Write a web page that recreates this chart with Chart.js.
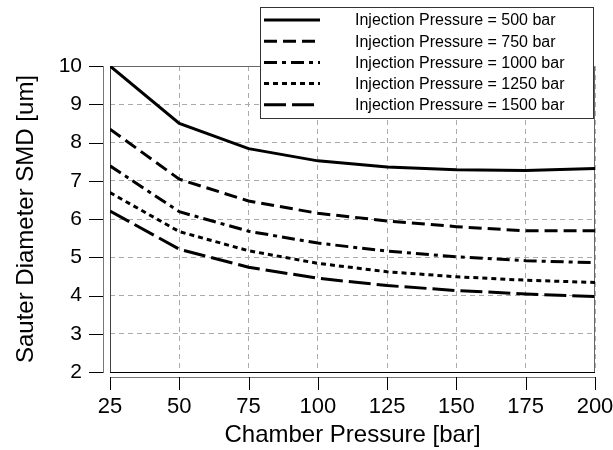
<!DOCTYPE html>
<html><head><meta charset="utf-8">
<script src="https://cdn.jsdelivr.net/npm/chart.js@4/dist/chart.umd.min.js"></script>
<style>html,body{margin:0;padding:0;background:#fff;}#wrap{width:613px;height:450px;}</style>
</head><body><div id="wrap"><canvas id="c" width="613" height="450"></canvas></div>
<script>
// ---- data ----
const chamberPressure = [25, 50, 75, 100, 125, 150, 175, 200];
const smd500  = [10.0, 8.50, 7.84, 7.52, 7.36, 7.29, 7.27, 7.32];
const smd750  = [8.35, 7.04, 6.47, 6.15, 5.95, 5.80, 5.69, 5.69];
const smd1000 = [7.39, 6.19, 5.68, 5.37, 5.16, 5.01, 4.91, 4.86];
const smd1250 = [6.69, 5.67, 5.17, 4.84, 4.62, 4.49, 4.40, 4.34];
const smd1500 = [6.21, 5.21, 4.74, 4.45, 4.26, 4.13, 4.04, 3.97];
const seriesLabels = [
  'Injection Pressure = 500 bar',
  'Injection Pressure = 750 bar',
  'Injection Pressure = 1000 bar',
  'Injection Pressure = 1250 bar',
  'Injection Pressure = 1500 bar'
];
const xTitle = 'Chamber Pressure [bar]';
const yTitle = 'Sauter Diameter SMD [um]';

const seriesValues = [smd500, smd750, smd1000, smd1250, smd1500];
const dashes = [[], [13, 6], [13, 5, 4, 5], [5, 4], [22, 6]];
const FONT = "'Liberation Sans', Arial, Helvetica, sans-serif";

const datasets = seriesValues.map((vals, i) => ({
  label: seriesLabels[i],
  data: chamberPressure.map((x, j) => ({x: x, y: vals[j]})),
  borderColor: '#000',
  borderWidth: 3,
  borderDash: dashes[i],
  borderCapStyle: 'butt',
  pointRadius: 0,
  tension: 0,
  fill: false
}));

const frameAxes = {
  id: 'frameAxes',
  beforeDatasetsDraw(chart) {
    const {ctx, chartArea: a, scales: {x, y}} = chart;
    ctx.save();
    ctx.setLineDash([]);
    ctx.lineWidth = 1;
    ctx.strokeStyle = '#666';
    ctx.beginPath();
    ctx.moveTo(a.left + 0.5, a.top + 0.5); ctx.lineTo(a.right - 0.5, a.top + 0.5);
    ctx.lineTo(a.right - 0.5, a.bottom);
    ctx.stroke();
    ctx.strokeStyle = '#444';
    ctx.beginPath();
    ctx.moveTo(a.left + 0.5, a.top); ctx.lineTo(a.left + 0.5, a.bottom);
    ctx.stroke();
    ctx.strokeStyle = '#000';
    ctx.beginPath();
    ctx.moveTo(a.left, a.bottom + 0.5); ctx.lineTo(a.right, a.bottom + 0.5);
    ctx.stroke();
    const ax = a.left - 7;
    ctx.strokeStyle = '#777';
    ctx.beginPath();
    ctx.moveTo(ax + 0.5, a.top); ctx.lineTo(ax + 0.5, a.bottom + 1);
    ctx.stroke();
    ctx.strokeStyle = '#000';
    y.ticks.forEach(t => {
      const py = Math.round(y.getPixelForValue(t.value)) + 0.5;
      ctx.beginPath(); ctx.moveTo(ax - 14, py); ctx.lineTo(ax, py); ctx.stroke();
    });
    const ay = a.bottom + 5;
    ctx.strokeStyle = '#777';
    ctx.beginPath();
    ctx.moveTo(a.left, ay + 0.5); ctx.lineTo(a.right, ay + 0.5);
    ctx.stroke();
    ctx.strokeStyle = '#000';
    x.ticks.forEach(t => {
      const px = Math.round(x.getPixelForValue(t.value)) + 0.5;
      ctx.beginPath(); ctx.moveTo(px, ay); ctx.lineTo(px, ay + 13); ctx.stroke();
    });
    ctx.restore();
  }
};

const boxLegend = {
  id: 'boxLegend',
  afterDraw(chart) {
    const {ctx} = chart;
    const L = 260, T = 7, R = 594, B = 119;
    ctx.save();
    ctx.fillStyle = '#fff';
    ctx.fillRect(L, T, R - L, B - T);
    ctx.strokeStyle = '#333';
    ctx.lineWidth = 1;
    ctx.setLineDash([]);
    ctx.strokeRect(L + 0.5, T + 0.5, R - L - 1, B - T - 1);
    ctx.font = '16px ' + FONT;
    ctx.textBaseline = 'middle';
    ctx.textAlign = 'left';
    chart.data.datasets.forEach((ds, i) => {
      const yy = 20 + i * 21.2;
      ctx.strokeStyle = '#000';
      ctx.lineWidth = 3;
      ctx.lineCap = 'butt';
      ctx.setLineDash(ds.borderDash);
      ctx.beginPath(); ctx.moveTo(264, yy); ctx.lineTo(320, yy); ctx.stroke();
      ctx.fillStyle = '#000';
      ctx.fillText(ds.label, 355, yy + 1);
    });
    ctx.restore();
  }
};

new Chart(document.getElementById('c'), {
  type: 'line',
  data: {datasets},
  options: {
    responsive: false,
    animation: false,
    devicePixelRatio: 1,
    layout: {padding: {left: 0, right: 18, top: 66, bottom: 0}},
    plugins: {legend: {display: false}, tooltip: {enabled: false}},
    scales: {
      x: {
        type: 'linear', min: 25, max: 200,
        afterFit: s => { s.height = 78; s.paddingLeft = 0; s.paddingRight = 0; },
        ticks: {stepSize: 25, padding: 22, color: '#000', font: {family: FONT, size: 22}},
        grid: {color: '#aaa', lineWidth: 1, drawTicks: false},
        border: {display: false, dash: [5, 4]},
        title: {display: true, text: xTitle, color: '#000', font: {family: FONT, size: 24}, padding: {top: 0, bottom: 0}}
      },
      y: {
        min: 2, max: 10,
        afterFit: s => { s.width = 110; s.paddingTop = 0; s.paddingBottom = 0; },
        ticks: {stepSize: 1, padding: 28, color: '#000', font: {family: FONT, size: 21}},
        grid: {color: '#aaa', lineWidth: 1, drawTicks: false},
        border: {display: false, dash: [5, 4]},
        title: {display: true, text: yTitle, color: '#000', font: {family: FONT, size: 24}, padding: {top: 12, bottom: 0}}
      }
    }
  },
  plugins: [frameAxes, boxLegend]
});
</script></body></html>
